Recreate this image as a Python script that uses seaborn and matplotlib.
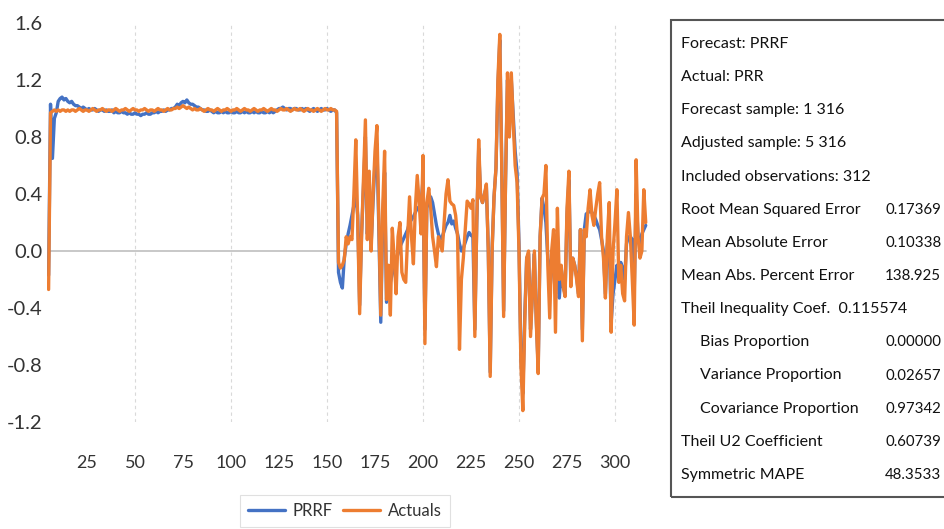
import matplotlib
matplotlib.use("Agg")
import matplotlib.pyplot as plt
from matplotlib.patches import Rectangle
from matplotlib.lines import Line2D
import numpy as np
import pandas as pd
import seaborn as sns

# ---------------- data ----------------
start_index = 5
forecast_flat = [
    -0.17, 1.03, 0.65, 0.93, 0.97, 1.05, 1.07, 1.08, 1.06, 1.07, 1.05, 1.04, 1.05, 1.03, 1.02, 1.02, 1.01, 1.00, 1.01, 1.00,
    0.99, 1.00, 0.99, 0.99, 1.00, 0.99, 0.98, 0.99, 0.99, 0.98, 0.99, 0.98, 0.98, 0.99, 0.97, 0.98, 0.97, 0.97, 0.98, 0.97, 0.97,
    0.96, 0.97, 0.96, 0.96, 0.97, 0.96, 0.96, 0.95, 0.96, 0.96, 0.97, 0.96, 0.96, 0.97, 0.97, 0.98, 0.97, 0.98, 0.98, 0.99,
    0.98, 0.99, 0.99, 1.00, 1.00, 1.01, 1.03, 1.02, 1.04, 1.05, 1.04, 1.06, 1.04, 1.03, 1.03, 1.02, 1.01, 1.01, 1.00, 0.99,
    0.99, 0.98, 0.98, 0.99, 0.98, 0.97, 0.98, 0.97, 0.97, 0.98, 0.97, 0.98, 0.97, 0.97, 0.98, 0.97, 0.97, 0.98, 0.97, 0.97,
    0.98, 0.97, 0.98, 0.97, 0.97, 0.98, 0.97, 0.98, 0.97, 0.97, 0.98, 0.97, 0.97, 0.98, 0.97, 0.98, 0.97, 0.98, 0.99, 1.00,
    1.00, 1.01, 1.00, 0.99, 1.00, 1.00, 0.99, 1.00, 1.00, 0.99, 0.99, 1.00, 0.99, 1.00, 0.99, 0.98, 0.99, 1.00, 0.99, 0.98,
    0.99, 1.00, 0.99, 0.99, 1.00, 0.99, 0.98, 0.99, 0.99,
]
forecast_volatile = [
    0.97, -0.15, -0.22, -0.26, -0.05, 0.05, 0.12, 0.18, 0.25, 0.32, 0.40, 0.25, -0.38, 0.12, 0.45, 0.80, 0.12, 0.50, 0.05, 0.35,
    0.62, 0.75, 0.15, -0.50, 0.20, 0.55, -0.36, -0.28, -0.22, -0.16, -0.12, -0.06, -0.02, 0.03, 0.06, 0.09, 0.12, 0.15, 0.20, 0.22,
    0.24, 0.27, 0.30, 0.31, 0.33, 0.50, -0.55, 0.30, 0.36, 0.38, 0.34, 0.26, 0.18, 0.12, 0.08, 0.10, 0.14, 0.18, 0.20, 0.25,
    0.19, 0.21, 0.16, 0.12, 0.05, 0.00, 0.02, 0.06, 0.10, 0.13, 0.11, 0.10, -0.55, 0.20, 0.72, 0.38, 0.34, 0.40, 0.45, 0.02,
    -0.85, 0.02, 0.38, 0.58, 1.15, 1.48, 0.62, -0.42, 0.50, 1.20, 0.85, 1.20, 0.95, 0.70, 0.55, 0.05, -0.75, -1.00, -0.45, -0.05,
    -0.02, -0.55, -0.30, -0.02, -0.48, -0.82, 0.10, 0.37, 0.30, 0.20, -0.05, -0.12, -0.10, -0.15, -0.30, 0.10, -0.33, -0.12, -0.25, -0.30,
    0.25, 0.50, -0.22, -0.05, -0.10, -0.18, -0.30, 0.15, -0.55, 0.15, 0.26, 0.27, 0.28, 0.27, 0.25, 0.22, 0.18, 0.15, 0.08, 0.00,
    -0.30, 0.05, 0.10, -0.50, -0.30, -0.20, -0.10, -0.15, -0.08, -0.12, -0.20, 0.05, 0.10, 0.10, 0.08, -0.30, 0.40, 0.10, 0.05, 0.12,
    0.15, 0.18,
]
actual_flat = [
    -0.27,
    0.97, 0.98, 0.99, 0.98, 0.99, 0.98, 0.99, 0.99, 0.98, 0.99, 0.98, 0.99, 0.99, 0.98, 0.99, 1.00, 0.99, 0.98, 0.99, 0.99,
    0.98, 0.99, 1.00, 0.99, 0.98, 0.99, 0.99, 1.00, 0.99, 0.98, 0.99, 0.99, 0.98, 0.99, 1.00, 0.99, 0.98, 0.99, 0.99, 1.00,
    0.99, 0.98, 0.99, 1.00, 0.99, 0.99, 0.98, 0.99, 0.99, 1.00, 0.99, 0.98, 0.99, 0.99, 0.98, 0.99, 1.00, 0.99, 0.99, 0.98,
    0.99, 1.00, 0.99, 0.99, 1.00, 1.00, 1.01, 1.00, 1.01, 1.02, 1.01, 1.00, 1.01, 1.00, 0.99, 1.00, 0.99, 0.99, 1.00, 0.99,
    0.98, 0.99, 1.00, 0.99, 0.99, 0.98, 0.99, 1.00, 0.99, 0.98, 0.99, 0.99, 1.00, 0.99, 0.98, 0.99, 0.99, 1.00, 0.99, 0.98,
    0.99, 1.00, 0.99, 0.99, 0.98, 0.99, 1.00, 0.99, 0.98, 0.99, 0.99, 1.00, 0.99, 0.98, 0.99, 1.00, 0.99, 0.99, 0.98, 0.99,
    1.00, 0.99, 0.99, 1.00, 0.99, 0.98, 0.99, 1.00, 0.99, 0.99, 1.00, 0.99, 0.98, 0.99, 1.00, 0.99, 0.99, 0.98, 0.99, 1.00,
    0.99, 0.98, 0.99, 1.00, 0.99, 0.99, 1.00, 0.99, 0.99,
]
actual_volatile = [
    0.98, -0.08, -0.12, -0.10, -0.06, 0.10, 0.05, 0.10, 0.08, 0.40, 0.78, 0.20, -0.44, 0.10, 0.50, 0.92, 0.08, 0.56, 0.00, 0.40,
    0.70, 0.88, 0.20, -0.45, 0.30, 0.70, -0.34, -0.10, -0.45, 0.16, -0.05, -0.30, 0.10, 0.20, -0.15, -0.20, -0.22, 0.10, 0.38, 0.10,
    -0.09, 0.30, 0.53, 0.34, 0.12, 0.67, -0.65, 0.34, 0.44, 0.30, 0.10, 0.00, -0.11, 0.10, 0.05, 0.00, 0.20, 0.40, 0.50, 0.35,
    0.33, 0.32, 0.25, 0.10, -0.69, -0.20, -0.05, 0.15, 0.35, 0.33, 0.30, 0.36, -0.60, 0.20, 0.78, 0.38, 0.34, 0.40, 0.47, 0.00,
    -0.88, 0.00, 0.38, 0.58, 1.20, 1.52, 0.60, -0.46, 0.50, 1.25, 0.80, 1.25, 0.90, 0.60, 0.48, 0.00, -0.80, -1.12, -0.50, -0.05,
    0.00, -0.60, -0.30, 0.00, -0.50, -0.86, 0.10, 0.37, 0.40, 0.60, -0.10, -0.47, 0.00, 0.15, -0.57, 0.30, -0.20, -0.10, -0.25, -0.32,
    0.30, 0.56, -0.25, -0.05, -0.10, -0.20, -0.32, 0.15, -0.63, 0.15, 0.10, 0.30, 0.43, 0.25, 0.18, 0.30, 0.40, 0.48, 0.10, -0.05,
    -0.33, 0.10, 0.34, -0.57, 0.00, 0.20, 0.43, -0.22, -0.10, -0.30, -0.35, 0.10, 0.27, 0.10, -0.20, -0.52, 0.64, 0.10, -0.05, 0.00,
    0.43, 0.20,
]
x_ticks = [25, 50, 75, 100, 125, 150, 175, 200, 225, 250, 275, 300]
y_ticks = [-1.2, -0.8, -0.4, 0.0, 0.4, 0.8, 1.2, 1.6]
series_names = ["PRRF", "Actuals"]
stats_labels = [
    "Forecast: PRRF", "Actual: PRR", "Forecast sample: 1 316", "Adjusted sample: 5 316",
    "Included observations: 312", "Root Mean Squared Error", "Mean Absolute Error",
    "Mean Abs. Percent Error", "Theil Inequality Coef.  0.115574", "Bias Proportion",
    "Variance Proportion", "Covariance Proportion", "Theil U2 Coefficient", "Symmetric MAPE",
]
stats_values = ["", "", "", "", "", "0.17369", "0.10338", "138.925", "",
                "0.00000", "0.02657", "0.97342", "0.60739", "48.3533"]
stats_indent = [0, 0, 0, 0, 0, 0, 0, 0, 0, 1, 1, 1, 0, 0]

# ---------------- build frame ----------------
forecast = forecast_flat + forecast_volatile
actual = actual_flat + actual_volatile
idx = list(range(start_index, start_index + len(forecast)))
df = pd.DataFrame({
    "obs": idx * 2,
    "value": forecast + actual,
    "series": [series_names[0]] * len(forecast) + [series_names[1]] * len(actual),
})

sns.set_style("white")
fam = ["Lato", "DejaVu Sans"]
plt.rcParams["font.family"] = fam

fig = plt.figure(figsize=(9.44, 5.29), dpi=100)
ax = fig.add_axes([(39 + 4 * 1.92) / 944, 1 - 422 / 529, (313 * 1.92) / 944, (422 - 23) / 529])

for x in [50, 100, 150, 200, 250, 300]:
    ax.axvline(x, color="#d9d9d9", lw=0.8, ls=(0, (3, 3)), zorder=0)
ax.plot([start_index, idx[-1]], [0, 0], color="#bfbfbf", lw=1.2, zorder=1)

sns.lineplot(data=df, x="obs", y="value", hue="series",
             palette={"PRRF": "#4472C4", "Actuals": "#ED7D31"},
             linewidth=2.4, ax=ax, legend=False, zorder=2)

ax.set_xlim(4, 317)
ax.set_ylim(-1.2, 1.6)
ax.set_xticks(x_ticks)
ax.set_yticks(y_ticks)
ax.set_yticklabels([f"{v:.1f}" for v in y_ticks], fontsize=14.5, color="#333333")
ax.set_xticklabels([str(v) for v in x_ticks], fontsize=13, color="#333333")
ax.tick_params(axis="x", length=0, pad=24)
ax.tick_params(axis="y", length=0, pad=3)
ax.set_xlabel("")
ax.set_ylabel("")
for s in ax.spines.values():
    s.set_visible(False)

# legend
handles = [Line2D([], [], color="#4472C4", lw=2.4), Line2D([], [], color="#ED7D31", lw=2.4)]
leg = fig.legend(handles, series_names, loc="center", bbox_to_anchor=(345 / 944, 1 - 511 / 529),
                 ncol=2, frameon=True, fontsize=12, handlelength=2.2, columnspacing=0.6,
                 handletextpad=0.5, fancybox=False, borderpad=0.5)
leg.get_frame().set_edgecolor("#d9d9d9")
leg.get_frame().set_linewidth(0.8)
for t in leg.get_texts():
    t.set_color("#333333")

# stats box
box = Rectangle((671 / 944, 1 - 497 / 529), 0.4, (497 - 20) / 529, transform=fig.transFigure,
                fill=False, edgecolor="#555555", lw=1.5)
fig.patches.append(box)
for i, (lab, val, ind) in enumerate(zip(stats_labels, stats_values, stats_indent)):
    yy = 1 - (44 + i * 33.15) / 529
    xx = (681 + ind * 19) / 944
    fig.text(xx, yy, lab, fontsize=11.5, va="center", ha="left", color="#111111")
    if val:
        fig.text(885 / 944, yy, val, fontsize=10.8, va="center", ha="left", color="#111111")

fig.savefig("out.png", dpi=100)
